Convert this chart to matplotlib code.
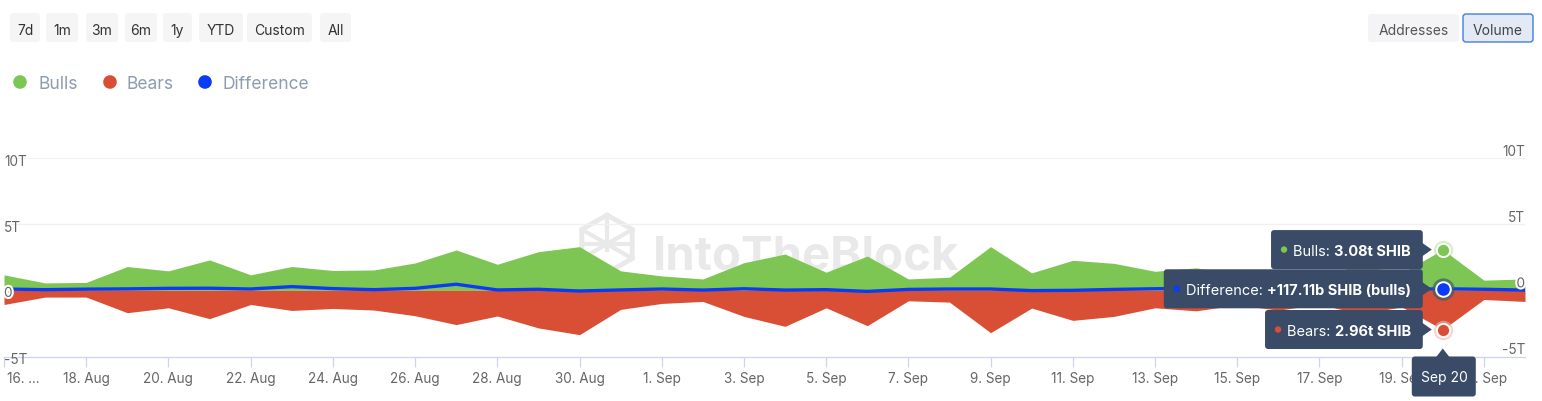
import matplotlib
matplotlib.use("Agg")
import matplotlib.pyplot as plt
import matplotlib.transforms as mtransforms
import matplotlib.patheffects as pe
import matplotlib.dates as mdates
from matplotlib.patches import FancyBboxPatch, Polygon, Circle
from matplotlib.lines import Line2D
import pandas as pd

plt.rcParams['font.family'] = ['Inter', 'DejaVu Sans']

# ---------------- data (trillions of SHIB) ----------------
dates = pd.date_range("2024-08-16", "2024-09-22", freq="D")
bulls = [1.17, 0.56, 0.60, 1.80, 1.47, 2.30, 1.17, 1.80, 1.50, 1.54, 2.07, 3.05, 1.97, 2.92, 3.30, 1.47,
         1.09, 0.86, 2.09, 2.74, 1.37, 2.59, 0.86, 0.99, 3.30, 1.32, 2.27, 2.04, 1.44, 1.70, 1.20, 1.60,
         1.10, 1.90, 1.30, 3.08, 0.77, 0.86]
bears = [1.07, 0.51, 0.51, 1.69, 1.32, 2.14, 1.07, 1.52, 1.37, 1.49, 1.92, 2.59, 1.94, 2.84, 3.35, 1.44,
         0.99, 0.84, 1.97, 2.72, 1.32, 2.67, 0.79, 0.89, 3.20, 1.34, 2.27, 1.97, 1.32, 1.55, 1.10, 1.50,
         1.05, 1.80, 1.25, 2.96, 0.69, 0.84]
difference = [0.10, 0.05, 0.09, 0.11, 0.15, 0.16, 0.10, 0.28, 0.13, 0.05, 0.15, 0.46, 0.03, 0.08, -0.05, 0.03,
              0.10, 0.02, 0.12, 0.02, 0.05, -0.08, 0.07, 0.10, 0.10, -0.02, 0.00, 0.07, 0.12, 0.15, 0.10, 0.10,
              0.05, 0.10, 0.05, 0.117, 0.08, 0.02]
x_tick_labels = ["16. ...", "18. Aug", "20. Aug", "22. Aug", "24. Aug", "26. Aug", "28. Aug", "30. Aug",
                 "1. Sep", "3. Sep", "5. Sep", "7. Sep", "9. Sep", "11. Sep", "13. Sep", "15. Sep",
                 "17. Sep", "19. Sep", "21. Sep"]
y_tick_values = [-5, 0, 5, 10]
y_tick_labels = ["-5T", "0", "5T", "10T"]
range_buttons = ["7d", "1m", "3m", "6m", "1y", "YTD", "Custom", "All"]
view_buttons = ["Addresses", "Volume"]
series_names = ["Bulls", "Bears", "Difference"]
hover_date = "2024-09-20"
hover_label = "Sep 20"
tooltip_bulls = "3.08t SHIB"
tooltip_diff = "+117.11b SHIB (bulls)"
tooltip_bears = "2.96t SHIB"

GREEN = '#7dc653'
RED = '#d94f36'
BLUE = '#0a3cf5'
TIP_BG = '#394b67'
ID = mtransforms.IdentityTransform()

W, H = 1542, 402
fig = plt.figure(figsize=(W / 100, H / 100), dpi=100)
fig.patch.set_facecolor('white')

# plot area: x 4..1525 px, y (top-origin) 159..357.5 px
ax = fig.add_axes([4 / W, (H - 357.5) / H, 1521 / W, (357.5 - 159) / H])
ax.patch.set_alpha(0)

bears_neg = [-b for b in bears]
ax.fill_between(dates, 0, bulls, color=GREEN, lw=0, zorder=2)
ax.fill_between(dates, 0, bears_neg, color=RED, lw=0, zorder=2)
ax.plot(dates, difference, color=BLUE, lw=2.4, zorder=3, solid_joinstyle='round')

ax.set_xlim(dates[0], dates[-1])
ax.set_ylim(-5, 10)
for v in (5, 10):
    ax.axhline(v, color='#f1f1f3', lw=1.0, zorder=0)

for s in ('top', 'right', 'left'):
    ax.spines[s].set_visible(False)
ax.spines['bottom'].set_color('#ccd6eb')
ax.spines['bottom'].set_linewidth(0.9)
ax.set_yticks([])
ax.set_xticks(dates[::2])
ax.set_xticklabels(x_tick_labels)
ax.tick_params(axis='x', length=7.5, width=0.9, color='#ccd6eb', pad=3.0,
               labelsize=9.75, labelcolor='#666666')
lbls = ax.get_xticklabels()
lbls[0].set_ha('left')
lbls[0].set_transform(lbls[0].get_transform() + mtransforms.ScaledTranslation(3 / 100, 0, fig.dpi_scale_trans))

# y labels, left (inside) and right (inside, raised)
halo = [pe.withStroke(linewidth=3, foreground='white')]
left_tr = mtransforms.offset_copy(ax.get_yaxis_transform(), fig=fig, x=0, y=-2.5, units='dots')
right_tr = mtransforms.offset_copy(ax.get_yaxis_transform(), fig=fig, x=0, y=7, units='dots')
for v, lab in zip(y_tick_values, y_tick_labels):
    kw = dict(fontsize=9.75, color='#666666', va='center', zorder=5)
    if lab == "0":
        kw['path_effects'] = halo
    ax.text(0.0, v, lab, transform=left_tr, ha='left', **kw)
    ax.text(1.0, v, lab, transform=right_tr, ha='right', **kw)

# ---------------- watermark ----------------
wm = '#e9e9e9'
fig.text(653, H - 270, "IntoTheBlock", fontsize=34, weight='bold', color=wm,
         ha='left', va='baseline', transform=ID, zorder=-1)
cx, cy, r = 607, H - 245, 29
hexv = [(cx, cy + r), (cx + 0.87 * r, cy + r / 2), (cx + 0.87 * r, cy - r / 2),
        (cx, cy - r), (cx - 0.87 * r, cy - r / 2), (cx - 0.87 * r, cy + r / 2)]
fig.add_artist(Polygon(hexv, closed=True, fill=False, ec=wm, lw=3.5, transform=ID, zorder=-1))
for (a, b) in [(hexv[5], hexv[2]), (hexv[1], hexv[4]), (hexv[0], (cx, cy - r * 0.2)),
               ((cx - 0.87 * r, cy), (cx + 0.87 * r, cy))]:
    fig.add_artist(Line2D([a[0], b[0]], [a[1], b[1]], color=wm, lw=3, transform=ID, zorder=-1))

# ---------------- top buttons ----------------
btn_pos = [(10, 40), (46, 78), (86, 118), (125, 157), (163, 192), (199, 243), (247, 312), (320, 351)]
for lab, (x0, x1) in zip(range_buttons, btn_pos):
    fig.add_artist(FancyBboxPatch((x0, H - 43), x1 - x0, 29, boxstyle="round,pad=0,rounding_size=3",
                                  fc='#f5f5f6', ec='none', transform=ID, zorder=1))
    fig.text((x0 + x1) / 2, H - 31, lab, fontsize=10, color='#333333', ha='center', va='center',
             transform=ID, zorder=2)

fig.add_artist(FancyBboxPatch((1368, H - 43), 91, 28, boxstyle="round,pad=0,rounding_size=3",
                              fc='#f4f4f6', ec='none', transform=ID, zorder=1))
fig.text(1413.5, H - 31, view_buttons[0], fontsize=10, color='#555555', ha='center', va='center',
         transform=ID, zorder=2)
fig.add_artist(FancyBboxPatch((1463, H - 43), 70, 28, boxstyle="round,pad=0,rounding_size=3",
                              fc='#e3e9f5', ec='#3f7fe2', lw=1.0, transform=ID, zorder=1))
fig.text(1498, H - 31, view_buttons[1], fontsize=10, color='#444444', ha='center', va='center',
         transform=ID, zorder=2)

# ---------------- legend ----------------
for name, col, xc, xt in zip(series_names, [GREEN, RED, BLUE], [20, 110, 205], [38, 126, 222]):
    fig.add_artist(Circle((xc, H - 83), 6.8, fc=col, ec='none', transform=ID, zorder=2))
    fig.text(xt, H - 85, name, fontsize=12.5, color='#8d9cb0', ha='left', va='center',
             transform=ID, zorder=2)

# ---------------- hover markers ----------------
idx = list(dates).index(pd.Timestamp(hover_date))
hx = dates[idx]
ax.plot([hx], [bulls[idx]], 'o', ms=14, color=GREEN, alpha=0.3, mew=0, zorder=6, clip_on=False)
ax.plot([hx], [bulls[idx]], 'o', ms=9.5, mfc=GREEN, mec='white', mew=1.4, zorder=7, clip_on=False)
ax.plot([hx], [difference[idx]], 'o', ms=16, color='#3d5a70', alpha=0.7, mew=0, zorder=6, clip_on=False)
ax.plot([hx], [difference[idx]], 'o', ms=10.5, mfc='#0a3cff', mec='white', mew=1.4, zorder=7, clip_on=False)
ax.plot([hx], [-bears[idx]], 'o', ms=14, color='#f0b9ae', alpha=0.6, mew=0, zorder=6, clip_on=False)
ax.plot([hx], [-bears[idx]], 'o', ms=9.5, mfc=RED, mec='white', mew=1.4, zorder=7, clip_on=False)

# ---------------- tooltips ----------------
renderer = fig.canvas.get_renderer()
xnum = mdates.date2num(hx.to_pydatetime())


def tooltip(value, reg, bold, bullet_col):
    px, py = ax.transData.transform((xnum, value))
    right = px - 20
    ty = py - 1
    tb = fig.text(right - 12, ty, bold, fontsize=10.5, weight='bold', color='white', ha='right',
                  va='center', transform=ID, zorder=12)
    bb = tb.get_window_extent(renderer)
    tr = fig.text(bb.x0, ty, reg, fontsize=10.5, color='white', ha='right', va='center',
                  transform=ID, zorder=12)
    rb = tr.get_window_extent(renderer)
    bx = rb.x0 - 9
    fig.add_artist(Circle((bx, py), 3.2, fc=bullet_col, ec='none', transform=ID, zorder=12))
    left = bx - 13
    fig.add_artist(FancyBboxPatch((left, py - 19.5), right - left, 39,
                                  boxstyle="round,pad=0,rounding_size=3",
                                  fc=TIP_BG, ec='none', transform=ID, zorder=11))
    fig.add_artist(Polygon([(right - 1, py + 7), (px - 11, py), (right - 1, py - 7)], closed=True,
                           fc=TIP_BG, ec='none', transform=ID, zorder=11))


tooltip(bulls[idx], "Bulls: ", tooltip_bulls, GREEN)
tooltip(difference[idx], "Difference: ", tooltip_diff, BLUE)
tooltip(-bears[idx], "Bears: ", tooltip_bears, RED)

# date label under the hovered point (covers part of the last tick label, as in the original)
px, _ = ax.transData.transform((xnum, 0))
ybot = ax.get_window_extent(renderer).y0
fig.add_artist(FancyBboxPatch((px - 31, ybot - 40), 64, 40, boxstyle="round,pad=0,rounding_size=3",
                              fc=TIP_BG, ec='none', transform=ID, zorder=11))
fig.add_artist(Polygon([(px - 7, ybot - 1), (px, ybot + 8), (px + 7, ybot - 1)], closed=True,
                       fc=TIP_BG, ec='none', transform=ID, zorder=11))
fig.text(px + 2, ybot - 21, hover_label, fontsize=10, color='white', ha='center', va='center',
         transform=ID, zorder=12)

fig.savefig("out.png", dpi=100, facecolor='white')
